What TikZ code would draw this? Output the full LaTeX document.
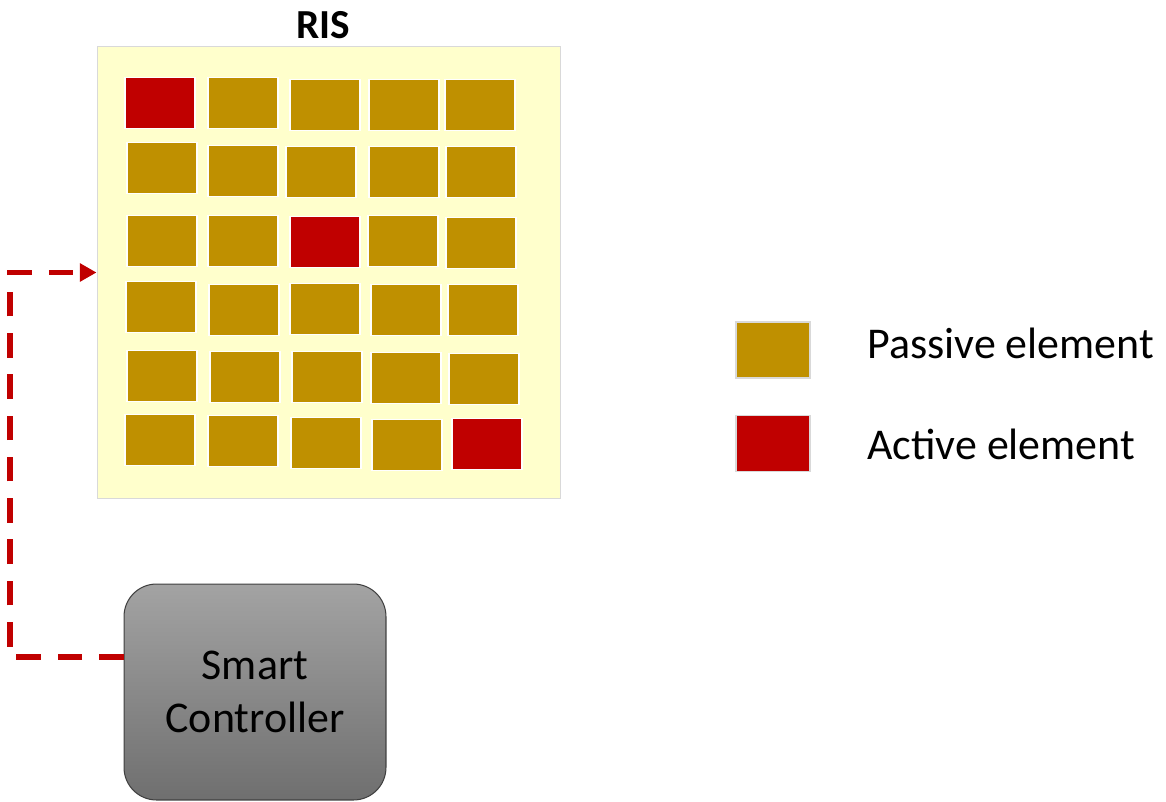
\documentclass[tikz,border=0pt]{standalone}
\usepackage{fontspec}
\setmainfont{Carlito}
\usepackage{tikz}
\usetikzlibrary{arrows.meta,positioning,calc}
\definecolor{passgold}{HTML}{BF9000}
\definecolor{actred}{HTML}{C00000}
\definecolor{panelyellow}{HTML}{FFFFCC}
\definecolor{panelgray}{HTML}{D9D9D9}
\definecolor{ctrltop}{HTML}{A3A3A3}
\definecolor{ctrlbottom}{HTML}{6F6F6F}
\definecolor{ctrlborder}{HTML}{404040}

\begin{document}
\begin{tikzpicture}[x=0.02cm, y=-0.02cm,
  cell/.style={draw=white, line width=0.6pt, minimum width=1.4cm, minimum height=1.02cm, inner sep=0pt},
  legbox/.style={draw=panelgray, line width=0.6pt, minimum width=1.48cm, minimum height=1.12cm, inner sep=0pt},
  lbl/.style={font=\fontsize{25}{30}\selectfont, inner sep=0pt},
  ctrlline/.style={actred, line width=3pt, dash pattern=on 14pt off 9.5pt, -{Triangle[length=9.5pt,width=10pt]}}]
\useasboundingbox (0,0) rectangle (1166,801);
% RIS panel
\node[draw=panelgray, fill=panelyellow, line width=0.6pt, minimum width=9.28cm, minimum height=9.06cm, inner sep=0pt] (ris) at (329,272.5) {};
\node[anchor=base, font=\fontsize{23.5}{28}\selectfont\bfseries, inner sep=0pt] (ristitle) at (323,38) {RIS};
\foreach \x/\y/\c [count=\i] in {
  160/103/actred, 243/103/passgold, 325/105/passgold, 404/105/passgold, 480/105/passgold,
  162/168/passgold, 243/171/passgold, 321/172/passgold, 404/172/passgold, 481/172/passgold,
  162/241/passgold, 243/241/passgold, 325/242/actred, 403/241/passgold, 481/243/passgold,
  161/307/passgold, 244/310/passgold, 325/309/passgold, 406/310/passgold, 483/310/passgold,
  162/376/passgold, 245/377/passgold, 327/377/passgold, 406/378/passgold, 484/379/passgold,
  160/440/passgold, 243/441/passgold, 326/443/passgold, 407/445/passgold, 487/444/actred}
  \node[cell, fill=\c] (e\i) at (\x,\y) {};
% controller
\node[draw=ctrlborder, line width=0.6pt, top color=ctrltop, bottom color=ctrlbottom, rounded corners=0.65cm,
  minimum width=5.24cm, minimum height=4.32cm, align=center, lbl] (ctrl) at (255,692) {Smart\\Controller};
\coordinate (turn) at (10,657);
\draw[ctrlline] (ctrl.west |- turn) -- (turn) |- (ris.west);
% legend
\node[legbox, fill=passgold] (legpas) at (773,350) {};
\node[legbox, fill=actred] (legact) at (773,443.5) {};
\node[lbl, anchor=base west] (pastext) at (867,358) {Passive element};
\node[lbl, anchor=base west] (acttext) at (867,459) {Active element};
\end{tikzpicture}
\end{document}
